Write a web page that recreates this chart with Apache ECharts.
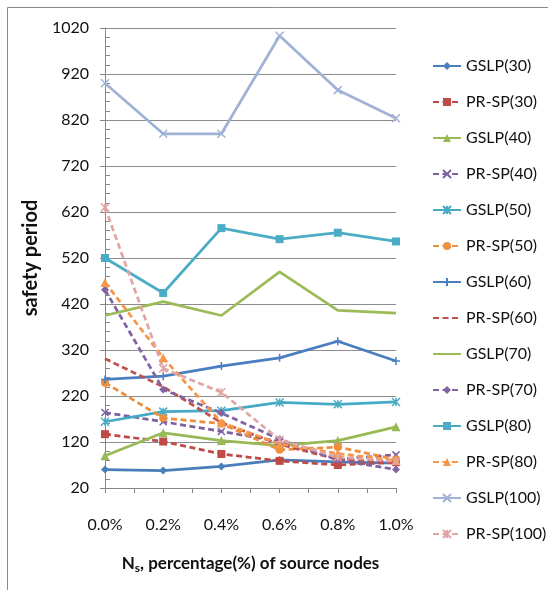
<!DOCTYPE html>
<html>
<head>
<meta charset="utf-8">
<script src="https://cdn.jsdelivr.net/npm/echarts@6/dist/echarts.min.js"></script>
<style>
html,body{margin:0;padding:0;background:#fff;}
#chart{width:548px;height:590px;}
</style>
</head>
<body>
<div id="chart"></div>
<script>
// x positions (percentage of source nodes)
const sourcePct = [0, 0.2, 0.4, 0.6, 0.8, 1.0];
// y-axis ticks
const yMin = 20, yMax = 1020, yStep = 100;

const gslp30  = [60, 58, 67, 81, 77, 74];
const prsp30  = [137, 121, 94, 79, 70, 76];
const gslp40  = [90, 140, 123, 112, 123, 153];
const prsp40  = [184, 164, 143, 121, 83, 92];
const gslp50  = [164, 186, 188, 206, 202, 207];
const prsp50  = [249, 172, 160, 103, 109, 82];
const gslp60  = [256, 263, 285, 303, 339, 296];
const prsp60  = [301, 240, 162, 115, 82, 78];
const gslp70  = [395, 425, 395, 490, 406, 400];
const prsp70  = [451, 234, 183, 126, 81, 60];
const gslp80  = [520, 444, 585, 561, 575, 556];
const prsp80  = [467, 303, 162, 116, 95, 80];
const gslp100 = [900, 790, 790, 1003, 885, 824];
const prsp100 = [630, 280, 228, 125, 87, 78];

const FONT = 'Lato';
const SYM_X = 'path://M0,0L10,10M10,0L0,10';
const SYM_AST = 'path://M0,0L10,10M10,0L0,10M5,0L5,10';
const SYM_PLUS = 'path://M5,0L5,10M0,5L10,5';

function mk(name, vals, color, dashed, symbol, size, stroke) {
  return {
    name: name,
    type: 'line',
    data: sourcePct.map((x, i) => [x, vals[i]]),
    symbol: symbol,
    symbolSize: size,
    showSymbol: symbol !== 'none',
    lineStyle: { color: color, width: 2.75, type: dashed ? [6, 3.5] : 'solid' },
    itemStyle: { color: color, borderColor: color, borderWidth: stroke ? 1.5 : 0 },
    emphasis: { disabled: true },
    z: 2
  };
}

const series = [
  mk('GSLP(30)', gslp30, '#4A7EBB', false, 'diamond', 8, false),
  mk('PR-SP(30)', prsp30, '#BE4B48', true, 'rect', 8, false),
  mk('GSLP(40)', gslp40, '#98B954', false, 'triangle', 9, false),
  mk('PR-SP(40)', prsp40, '#7D60A0', true, SYM_X, 7, true),
  mk('GSLP(50)', gslp50, '#46AAC5', false, SYM_AST, 8, true),
  mk('PR-SP(50)', prsp50, '#EE8F3F', true, 'circle', 8, false),
  mk('GSLP(60)', gslp60, '#4A7EC0', false, SYM_PLUS, 8, true),
  mk('PR-SP(60)', prsp60, '#C0504D', true, 'none', 0, false),
  mk('GSLP(70)', gslp70, '#9BBB59', false, 'none', 0, false),
  mk('PR-SP(70)', prsp70, '#8064A2', true, 'diamond', 8, false),
  mk('GSLP(80)', gslp80, '#4BACC6', false, 'rect', 8, false),
  mk('PR-SP(80)', prsp80, '#F79646', true, 'triangle', 9, false),
  mk('GSLP(100)', gslp100, '#A0B2D6', false, SYM_X, 8, true),
  mk('PR-SP(100)', prsp100, '#E0A5A4', true, SYM_AST, 8, true)
];

const legendData = series.map(s => s.symbol === 'none'
  ? { name: s.name, itemStyle: { opacity: 0 } }
  : { name: s.name });

const chart = echarts.init(document.getElementById('chart'), null, { renderer: 'canvas' });
chart.setOption({
  animation: false,
  backgroundColor: '#fff',
  textStyle: { fontFamily: FONT },
  graphic: [{
    type: 'rect',
    shape: { x: 7.5, y: 7.5, width: 700, height: 700 },
    style: { fill: 'none', stroke: '#8a8a8a', lineWidth: 1 },
    silent: true
  }],
  grid: { left: 105, right: 152, top: 28, bottom: 102, containLabel: false },
  legend: {
    orient: 'vertical',
    left: 427,
    top: 52,
    itemWidth: 28,
    itemHeight: 10,
    itemGap: 18,
    textStyle: { fontFamily: FONT, fontSize: 16, color: '#111', lineHeight: 18 },
    data: legendData
  },
  xAxis: {
    type: 'value',
    min: 0,
    max: 1,
    interval: 0.2,
    name: '{a|N}{s|s}{a|, percentage(%) of source nodes}',
    nameLocation: 'middle',
    nameGap: 65,
    nameTextStyle: {
      rich: {
        a: { fontFamily: FONT, fontSize: 17, color: '#111', fontWeight: 'bold' },
        s: { fontFamily: FONT, fontSize: 12, color: '#111', fontWeight: 'bold', verticalAlign: 'bottom', padding: [9, 0, 0, 0] }
      }
    },
    axisLine: { show: true, lineStyle: { color: '#868686', width: 1 } },
    axisTick: { show: true, length: 5, lineStyle: { color: '#868686' } },
    minorTick: { show: true, splitNumber: 2, length: 5, lineStyle: { color: '#868686' } },
    splitLine: { show: false },
    axisLabel: {
      margin: 29,
      fontFamily: FONT,
      fontSize: 16,
      color: '#111',
      formatter: v => v.toFixed(1) + '%'
    }
  },
  yAxis: {
    type: 'value',
    min: yMin,
    max: yMax,
    interval: yStep,
    name: 'safety period',
    nameLocation: 'middle',
    nameGap: 59,
    nameRotate: 90,
    nameTextStyle: { fontFamily: FONT, fontSize: 20, fontWeight: 'bold', color: '#111' },
    axisLine: { show: true, lineStyle: { color: '#868686', width: 1 } },
    axisTick: { show: true, length: 5, lineStyle: { color: '#868686' } },
    minorTick: { show: true, splitNumber: 5, length: -5, lineStyle: { color: '#868686' } },
    splitLine: { show: true, lineStyle: { color: '#8c8c8c', width: 1 } },
    minorSplitLine: { show: false },
    axisLabel: { margin: 16, fontFamily: FONT, fontSize: 16, color: '#111', formatter: v => String(v) }
  },
  series: series
});
</script>
</body>
</html>
